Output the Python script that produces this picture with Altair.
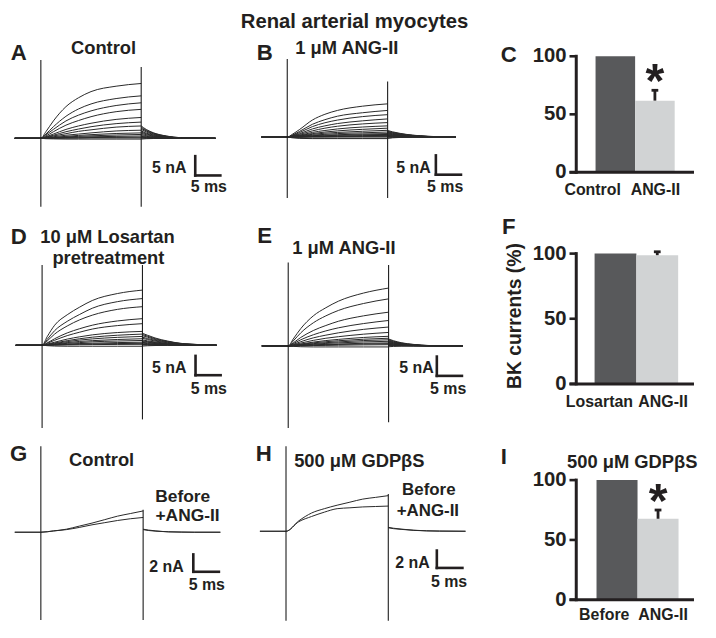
import altair as alt
import pandas as pd

# ======================= DATA =======================
TITLE = "Renal arterial myocytes"

# ---- A: control, family of outward currents (nA) vs time (ms) ----
A_T = [-5.2, 0, 1, 2.5, 5, 7.5, 10, 15, 20]
A_PULSE = [
    [0, 0, 1.7, 4.5, 8.2, 10.5, 12.1, 13.5, 14.2],
    [0, 0, 1.1, 3.0, 5.7, 7.6, 8.9, 10.3, 11.0],
    [0, 0, 0.9, 2.3, 4.5, 6.0, 7.1, 8.5, 9.2],
    [0, 0, 0.6, 1.7, 3.4, 4.6, 5.6, 6.9, 7.5],
    [0, 0, 0.4, 1.1, 2.3, 3.2, 3.9, 4.9, 5.4],
    [0, 0, 0.3, 0.8, 1.7, 2.4, 3.0, 3.8, 4.2],
    [0, 0, 0.2, 0.6, 1.2, 1.8, 2.2, 2.9, 3.2],
    [0, 0, 0.15, 0.4, 0.8, 1.1, 1.4, 1.9, 2.1],
    [0, 0, 0.1, 0.25, 0.5, 0.75, 0.95, 1.25, 1.4],
    [0, 0, 0.05, 0.15, 0.35, 0.5, 0.65, 0.85, 1.0],
    [0, 0, 0.05, 0.1, 0.2, 0.3, 0.4, 0.5, 0.6],
    [0, 0, 0, 0.05, 0.1, 0.15, 0.2, 0.25, 0.3],
    [0, 0, 0, 0, 0.05, 0.05, 0.1, 0.1, 0.1],
    [0, 0, -0.1, -0.15, -0.2, -0.2, -0.2, -0.2, -0.2],
]
A_TAIL_T = [20, 21, 22.5, 25, 28, 34.8]
A_TAIL = [
    [3.2, 2.3, 1.4, 0.6, 0.15, 0],
    [2.9, 2.1, 1.3, 0.55, 0.15, 0],
    [2.6, 1.9, 1.15, 0.5, 0.12, 0],
    [2.3, 1.65, 1.0, 0.45, 0.1, 0],
    [1.9, 1.35, 0.85, 0.35, 0.1, 0],
    [1.6, 1.15, 0.7, 0.3, 0.08, 0],
    [1.3, 0.95, 0.55, 0.25, 0.06, 0],
    [1.0, 0.7, 0.45, 0.2, 0.05, 0],
    [0.7, 0.5, 0.3, 0.13, 0.03, 0],
    [0.5, 0.35, 0.22, 0.1, 0.02, 0],
    [0.3, 0.2, 0.13, 0.06, 0.01, 0],
    [0.15, 0.1, 0.07, 0.03, 0, 0],
    [0.05, 0.03, 0.02, 0.01, 0, 0],
    [-0.2, -0.1, -0.05, 0, 0, 0],
]
A_SPIKES = [[0, 20.3, -17.75], [20, 18.5, -17.75]]

# ---- B: 1 uM ANG-II ----
B_T = [-5.1, 0, 1, 2.5, 5, 7.5, 10, 15, 20]
B_PULSE = [
    [0, 0, 0.7, 2.0, 4.4, 5.9, 6.9, 8.0, 8.6],
    [0, 0, 0.5, 1.5, 3.3, 4.5, 5.4, 6.3, 6.9],
    [0, 0, 0.4, 1.2, 2.7, 3.7, 4.4, 5.3, 5.8],
    [0, 0, 0.3, 0.9, 2.1, 2.9, 3.5, 4.2, 4.7],
    [0, 0, 0.25, 0.7, 1.6, 2.3, 2.8, 3.4, 3.75],
    [0, 0, 0.2, 0.5, 1.2, 1.7, 2.1, 2.6, 2.9],
    [0, 0, 0.15, 0.4, 0.9, 1.3, 1.6, 2.0, 2.3],
    [0, 0, 0.1, 0.3, 0.7, 1.0, 1.2, 1.5, 1.75],
    [0, 0, 0.1, 0.2, 0.5, 0.7, 0.9, 1.1, 1.3],
    [0, 0, 0.05, 0.15, 0.35, 0.5, 0.6, 0.8, 0.9],
    [0, 0, 0.05, 0.1, 0.25, 0.35, 0.45, 0.6, 0.67],
    [0, 0, 0, 0.05, 0.15, 0.2, 0.3, 0.38, 0.42],
    [0, 0, 0, 0.05, 0.1, 0.12, 0.15, 0.2, 0.25],
    [0, 0, 0, 0, 0.05, 0.05, 0.08, 0.1, 0.1],
    [0, 0, -0.1, -0.2, -0.25, -0.25, -0.25, -0.25, -0.25],
    [0, 0, -0.2, -0.35, -0.4, -0.4, -0.4, -0.4, -0.4],
]
B_TAIL_T = [20, 21, 22.5, 25, 28, 33.6]
B_TAIL = [
    [1.7, 1.35, 0.95, 0.5, 0.2, 0],
    [1.5, 1.2, 0.85, 0.45, 0.18, 0],
    [1.35, 1.1, 0.75, 0.4, 0.16, 0],
    [1.2, 0.95, 0.65, 0.35, 0.14, 0],
    [1.05, 0.85, 0.6, 0.3, 0.12, 0],
    [0.9, 0.7, 0.5, 0.26, 0.1, 0],
    [0.8, 0.62, 0.44, 0.22, 0.09, 0],
    [0.65, 0.5, 0.36, 0.18, 0.07, 0],
    [0.5, 0.4, 0.28, 0.14, 0.05, 0],
    [0.4, 0.32, 0.22, 0.11, 0.04, 0],
    [0.3, 0.24, 0.17, 0.08, 0.03, 0],
    [0.2, 0.16, 0.11, 0.05, 0.02, 0],
    [0.1, 0.08, 0.05, 0.03, 0.01, 0],
    [0.05, 0.04, 0.03, 0.01, 0, 0],
    [-0.2, -0.12, -0.06, -0.02, 0, 0],
    [-0.35, -0.2, -0.1, -0.03, 0, 0],
]
B_SPIKES = [[0, 20.2, -15.8], [20, 14.4, -15.8]]

# ---- D: 10 uM losartan pretreatment ----
D_T = [-5.25, 0, 1, 2.5, 5, 7.5, 10, 15, 20]
D_PULSE = [
    [0, 0, 2.2, 5.2, 7.9, 9.9, 11.6, 13.4, 14.3],
    [0, 0, 1.5, 3.8, 6.2, 8.0, 9.6, 11.3, 12.1],
    [0, 0, 1.1, 2.9, 5.0, 6.6, 7.8, 9.3, 10.0],
    [0, 0, 0.6, 1.7, 3.2, 4.3, 5.2, 6.3, 6.9],
    [0, 0, 0.5, 1.3, 2.5, 3.4, 4.2, 5.1, 5.6],
    [0, 0, 0.3, 0.8, 1.6, 2.2, 2.7, 3.3, 3.6],
    [0, 0, 0.2, 0.6, 1.2, 1.7, 2.1, 2.6, 2.9],
    [0, 0, 0.15, 0.45, 0.95, 1.35, 1.65, 2.05, 2.3],
    [0, 0, 0.1, 0.3, 0.7, 1.0, 1.2, 1.5, 1.7],
    [0, 0, 0.1, 0.25, 0.5, 0.7, 0.9, 1.1, 1.25],
    [0, 0, 0.05, 0.15, 0.3, 0.45, 0.55, 0.7, 0.8],
    [0, 0, 0, 0.1, 0.2, 0.3, 0.35, 0.45, 0.5],
    [0, 0, 0, 0.05, 0.1, 0.15, 0.18, 0.22, 0.25],
    [0, 0, -0.1, -0.2, -0.25, -0.25, -0.25, -0.25, -0.25],
]
D_TAIL_T = [20, 21, 22.5, 25, 28, 34.75]
D_TAIL = [
    [3.1, 2.6, 1.9, 1.1, 0.45, 0.05],
    [2.8, 2.35, 1.7, 1.0, 0.4, 0.05],
    [2.5, 2.1, 1.5, 0.9, 0.36, 0.04],
    [2.1, 1.75, 1.3, 0.75, 0.3, 0.03],
    [1.8, 1.5, 1.1, 0.65, 0.26, 0.03],
    [1.4, 1.15, 0.85, 0.5, 0.2, 0.02],
    [1.15, 0.95, 0.7, 0.4, 0.16, 0.02],
    [0.95, 0.8, 0.57, 0.33, 0.13, 0.01],
    [0.75, 0.62, 0.45, 0.26, 0.1, 0.01],
    [0.55, 0.45, 0.33, 0.19, 0.08, 0],
    [0.35, 0.29, 0.21, 0.12, 0.05, 0],
    [0.2, 0.16, 0.12, 0.07, 0.03, 0],
    [0.1, 0.08, 0.06, 0.03, 0.01, 0],
    [-0.2, -0.12, -0.06, -0.02, 0, 0],
]
D_SPIKES = [[0, 20.8, -21.4], [20, 20.8, -19.2]]

# ---- E: losartan + 1 uM ANG-II ----
E_T = [-5.25, 0, 1, 2.5, 5, 7.5, 10, 15, 20]
E_PULSE = [
    [0, 0, 1.8, 4.5, 7.8, 9.9, 11.6, 13.7, 15.0],
    [0, 0, 1.3, 3.4, 6.0, 7.8, 9.2, 11.0, 12.2],
    [0, 0, 0.8, 2.2, 4.0, 5.3, 6.4, 7.8, 8.75],
    [0, 0, 0.6, 1.6, 2.9, 3.9, 4.7, 5.8, 6.6],
    [0, 0, 0.4, 1.1, 2.1, 2.8, 3.4, 4.3, 4.9],
    [0, 0, 0.3, 0.75, 1.45, 2.0, 2.4, 3.05, 3.5],
    [0, 0, 0.2, 0.5, 1.0, 1.4, 1.7, 2.2, 2.5],
    [0, 0, 0.15, 0.4, 0.8, 1.1, 1.35, 1.75, 2.0],
    [0, 0, 0.1, 0.3, 0.6, 0.85, 1.05, 1.4, 1.6],
    [0, 0, 0.1, 0.2, 0.45, 0.65, 0.8, 1.05, 1.2],
    [0, 0, 0.05, 0.15, 0.3, 0.4, 0.5, 0.7, 0.8],
    [0, 0, 0.05, 0.1, 0.2, 0.3, 0.4, 0.5, 0.6],
    [0, 0, 0, 0.05, 0.1, 0.15, 0.2, 0.28, 0.33],
    [0, 0, -0.1, -0.2, -0.25, -0.25, -0.25, -0.25, -0.25],
]
E_TAIL_T = [20, 21, 22.5, 25, 28, 34.75]
E_TAIL = [
    [1.8, 1.35, 0.85, 0.4, 0.12, 0],
    [1.6, 1.2, 0.75, 0.35, 0.1, 0],
    [1.4, 1.05, 0.66, 0.3, 0.09, 0],
    [1.25, 0.94, 0.59, 0.27, 0.08, 0],
    [1.1, 0.82, 0.52, 0.24, 0.07, 0],
    [0.95, 0.71, 0.45, 0.21, 0.06, 0],
    [0.8, 0.6, 0.38, 0.17, 0.05, 0],
    [0.7, 0.52, 0.33, 0.15, 0.04, 0],
    [0.55, 0.41, 0.26, 0.12, 0.03, 0],
    [0.4, 0.3, 0.19, 0.09, 0.02, 0],
    [0.3, 0.22, 0.14, 0.06, 0.02, 0],
    [0.2, 0.15, 0.09, 0.04, 0.01, 0],
    [0.1, 0.07, 0.05, 0.02, 0, 0],
    [-0.2, -0.12, -0.06, -0.02, 0, 0],
]
E_SPIKES = [[0, 21.6, -21.25], [20, 21.0, -19.75]]

# ---- G: control, before / +ANG-II ----
G_T = [-5.1, 0, 2.5, 5, 7.5, 10, 12.5, 15, 17.5, 20]
G_PULSE = [
    [0, 0, 0.15, 0.35, 0.7, 1.05, 1.45, 1.85, 2.15, 2.45],   # Before
    [0, 0, 0.15, 0.3, 0.55, 0.85, 1.1, 1.35, 1.55, 1.7],     # +ANG-II
]
G_TAIL_T = [20, 21, 22.5, 25, 30, 35.1]
G_TAIL = [
    [0.35, 0.25, 0.15, 0.05, 0, 0],
    [0.3, 0.2, 0.12, 0.04, 0, 0],
]
G_SPIKES = [[0, 9.9, -10.1], [20, 2.6, -10.1]]

# ---- H: 500 uM GDPbetaS, before / +ANG-II ----
H_T = [-5.1, 0, 2.5, 5, 7.5, 10, 12.5, 15, 17.5, 20]
H_PULSE = [
    [0, 0, 1.2, 2.1, 2.6, 3.0, 3.35, 3.7, 3.9, 4.1],   # Before
    [0, 0, 1.1, 1.7, 2.2, 2.6, 2.7, 2.8, 2.85, 2.9],   # +ANG-II
]
H_TAIL_T = [20, 21, 22.5, 25, 30, 35.1]
H_TAIL = [
    [0.45, 0.35, 0.25, 0.12, 0.02, 0],
    [0.4, 0.3, 0.22, 0.1, 0.02, 0],
]
H_SPIKES = [[0, 9.8, -10.3], [20, 4.3, -10.3]]

# ---- bar graphs: BK currents (%) ----
BAR_TICKS = [0, 50, 100]
C_CATS = ["Control", "ANG-II"]
C_VALS = [100, 61.8]
C_ERR = [0, 8.9]
C_SIG = [False, True]
F_CATS = ["Losartan", "ANG-II"]
F_VALS = [100, 98.8]
F_ERR = [0, 2.6]
F_SIG = [False, False]
I_CATS = ["Before", "ANG-II"]
I_VALS = [100, 67.7]
I_ERR = [0, 7.3]
I_SIG = [False, True]

# ======================= LAYOUT / STYLE =======================
S = 0.965                       # reference px -> page px
FONT = "Liberation Sans"
INK = "#231f20"
TRACE = "#2a2a2a"
BAR_FILLS = ["#58595b", "#d1d3d4"]

COLS = [(0, 230), (230, 480), (480, 716)]
ROWS = [(0, 205), (205, 433), (433, 638)]

TRACE_GEO = {
    "A": dict(col=0, row=0, xz=33.0, pxms=5.2, base=134.0, pxna=4.0),
    "B": dict(col=1, row=0, xz=288.3, pxms=5.2, base=132.7, pxna=4.0),
    "D": dict(col=0, row=1, xz=34.3, pxms=5.2, base=348.3, pxna=4.0),
    "E": dict(col=1, row=1, xz=289.3, pxms=5.2, base=349.0, pxna=4.0),
    "G": dict(col=0, row=2, xz=33.0, pxms=5.3, base=541.0, pxna=9.0),
    "H": dict(col=1, row=2, xz=287.0, pxms=5.3, base=540.0, pxna=9.0),
}
SCALEBARS = {
    "A": dict(corner=(193.0, 172.5), na=5, ms=5, na_at=(184, 165), ms_at=(207, 184)),
    "B": dict(corner=(442.3, 171.7), na=5, ms=5, na_at=(437, 165), ms_at=(452, 184)),
    "D": dict(corner=(193.3, 379.3), na=5, ms=5, na_at=(184, 372), ms_at=(207, 394)),
    "E": dict(corner=(443.3, 380.0), na=5, ms=5, na_at=(440, 372), ms_at=(455, 394)),
    "G": dict(corner=(191.0, 582.0), na=2, ms=5, na_at=(181, 577), ms_at=(205, 596)),
    "H": dict(corner=(443.3, 578.0), na=2, ms=5, na_at=(436, 573), ms_at=(456, 593)),
}
LETTER = 23
HEAD = 19
SMALL = 16.5
TRACE_LABELS = {
    "A": [("A", 10, 46, LETTER), ("Control", 98, 40, HEAD)],
    "B": [(TITLE, 358, 13, 21), ("B", 265, 46, LETTER), ("1 μM ANG-II", 350, 40, HEAD)],
    "D": [("D", 10, 236, LETTER), ("10 μM Losartan", 102, 236, HEAD), ("pretreatment", 103, 258, HEAD)],
    "E": [("E", 265, 235, LETTER), ("1 μM ANG-II", 347, 248, HEAD)],
    "G": [("G", 10, 460, LETTER), ("Control", 96, 466, HEAD),
          ("Before", 180, 505, 18), ("+ANG-II", 185, 524, 18)],
    "H": [("H", 264, 460, LETTER), ("500 μM GDPβS", 363, 467, HEAD),
          ("Before", 435, 497, 17.5), ("+ANG-II", 434, 519, 17.5)],
}

BAR_GEO = {
    "C": dict(col=2, row=0, xb=607.0, unit=41.0, y0=169.3, pxv=1.203),
    "F": dict(col=2, row=1, xb=606.0, unit=43.3, y0=388.3, pxv=1.35),
    "I": dict(col=2, row=2, xb=608.0, unit=42.5, y0=611.0, pxv=1.24),
}
AXIS_X, TICK_X, LABEL_X, BASE_END = 587, 580, 577, 709
BAR_LABELS = {
    "C": dict(x=[604, 669], y=188, extra=[("C", 517, 48, LETTER)]),
    "F": dict(x=[611, 677], y=407, extra=[("F", 517, 226, LETTER)]),
    "I": dict(x=[616, 677], y=627, extra=[("I", 512, 463, LETTER), ("500 μM GDPβS", 645, 468, HEAD)]),
}
YTITLE = ("BK currents (%)", 524, 318, 20)
TICKFONT = 21
AST = 50
AST_GAP = 22   # ref px from error-bar top to asterisk centre


def text_layer(df, xs, ys, align="center", baseline="middle", angle=None):
    kw = dict(font=FONT, fontWeight="bold", color=INK, align=align, baseline=baseline)
    if angle is not None:
        kw["angle"] = angle
    return alt.Chart(df).mark_text(**kw).encode(
        x=alt.X("x:Q", scale=xs, axis=None),
        y=alt.Y("y:Q", scale=ys, axis=None),
        text="text:N",
        size=alt.Size("size:Q", scale=None, legend=None),
    )


def trace_panel(key, t_pulse, pulse, t_tail, tail, spikes):
    g = TRACE_GEO[key]
    fx = lambda px: (px - g["xz"]) / g["pxms"]
    fy = lambda py: (g["base"] - py) / g["pxna"]
    (x0, x1), (y0, y1) = COLS[g["col"]], ROWS[g["row"]]
    xs = alt.Scale(domain=[fx(x0), fx(x1)], nice=False, zero=False)
    ys = alt.Scale(domain=[fy(y1), fy(y0)], nice=False, zero=False)

    rows = []
    for i, seq in enumerate(pulse):
        for k, (t, v) in enumerate(zip(t_pulse, seq)):
            rows.append({"seg": f"p{i}", "k": k, "x": t, "y": v})
    for i, seq in enumerate(tail):
        for k, (t, v) in enumerate(zip(t_tail, seq)):
            rows.append({"seg": f"t{i}", "k": k, "x": t, "y": v})
    lines = alt.Chart(pd.DataFrame(rows)).mark_line(
        color=TRACE, strokeWidth=1.0, interpolate="monotone"
    ).encode(
        x=alt.X("x:Q", scale=xs, axis=None),
        y=alt.Y("y:Q", scale=ys, axis=None),
        detail="seg:N",
        order="k:Q",
    )

    sp = pd.DataFrame(spikes, columns=["x", "y", "y2"])
    spk = alt.Chart(sp).mark_rule(color="#1e1e1e", strokeWidth=1.1).encode(
        x=alt.X("x:Q", scale=xs, axis=None),
        y=alt.Y("y:Q", scale=ys, axis=None),
        y2="y2:Q",
    )

    sb = SCALEBARS[key]
    ct, cv = fx(sb["corner"][0]), fy(sb["corner"][1])
    sbdf = pd.DataFrame([
        {"x": ct, "x2": ct, "y": cv, "y2": cv + sb["na"]},
        {"x": ct, "x2": ct + sb["ms"], "y": cv, "y2": cv},
    ])
    sbar = alt.Chart(sbdf).mark_rule(color=INK, strokeWidth=2.6, strokeCap="square").encode(
        x=alt.X("x:Q", scale=xs, axis=None), x2="x2:Q",
        y=alt.Y("y:Q", scale=ys, axis=None), y2="y2:Q",
    )

    right = pd.DataFrame([{"text": f"{sb['na']} nA", "x": fx(sb["na_at"][0]),
                           "y": fy(sb["na_at"][1]), "size": SMALL * S}])
    centre_rows = [{"text": f"{sb['ms']} ms", "x": fx(sb["ms_at"][0]),
                    "y": fy(sb["ms_at"][1]), "size": SMALL * S}]
    for txt, rx, ry, sz in TRACE_LABELS[key]:
        centre_rows.append({"text": txt, "x": fx(rx), "y": fy(ry), "size": sz * S})
    centre = pd.DataFrame(centre_rows)

    return alt.layer(
        lines, spk, sbar,
        text_layer(right, xs, ys, align="right"),
        text_layer(centre, xs, ys),
    ).properties(width=(x1 - x0) * S, height=(y1 - y0) * S)


def bar_panel(key, cats, vals, errs, sig, ytitle=None):
    g = BAR_GEO[key]
    fx = lambda px: (px - g["xb"]) / g["unit"]
    fy = lambda py: (g["y0"] - py) / g["pxv"]
    (x0, x1), (y0, y1) = COLS[g["col"]], ROWS[g["row"]]
    xs = alt.Scale(domain=[fx(x0), fx(x1)], nice=False, zero=False)
    ys = alt.Scale(domain=[fy(y1), fy(y0)], nice=False, zero=False)
    X = lambda f: alt.X(f"{f}:Q", scale=xs, axis=None)
    Y = lambda f: alt.Y(f"{f}:Q", scale=ys, axis=None)

    cap = 3.5 / g["unit"]
    bdf = pd.DataFrame({"cat": cats, "val": vals, "err": errs, "sig": sig})
    bdf["lo"] = list(range(len(cats)))
    bdf["hi"] = bdf["lo"] + 1
    bdf["mid"] = bdf["lo"] + 0.5
    bdf["cl"] = bdf["mid"] - cap
    bdf["cr"] = bdf["mid"] + cap
    bdf["top"] = bdf["val"] + bdf["err"]
    bdf["zero"] = 0.0
    bdf["star"] = "*"
    bdf["fill"] = BAR_FILLS[: len(cats)]

    bars = alt.Chart(bdf).mark_bar().encode(
        x=X("lo"), x2="hi:Q", y=Y("val"), y2="zero:Q",
        color=alt.Color("fill:N", scale=None, legend=None),
    )
    ebase = alt.Chart(bdf).transform_filter("datum.err > 0")
    err = ebase.mark_rule(color=INK, strokeWidth=2.8).encode(x=X("mid"), y=Y("val"), y2="top:Q")
    errcap = ebase.mark_rule(color=INK, strokeWidth=2.8).encode(x=X("cl"), x2="cr:Q", y=Y("top"))
    star = alt.Chart(bdf).transform_filter("datum.sig").mark_text(
        font=FONT, fontWeight="bold", color=INK, fontSize=AST * S, align="center",
        baseline="alphabetic", dy=(-AST_GAP + 0.585 * AST) * S,
    ).encode(x=X("mid"), y=Y("top"), text="star:N")

    ax, tx, be = fx(AXIS_X), fx(TICK_X), fx(BASE_END)
    tdf = pd.DataFrame({"v": BAR_TICKS})
    tdf["x"] = tx
    tdf["x2"] = ax
    tdf["lx"] = fx(LABEL_X)
    tdf["text"] = [str(t) for t in BAR_TICKS]
    tdf["size"] = TICKFONT * S
    ticks = alt.Chart(tdf).mark_rule(color=INK, strokeWidth=2.6).encode(x=X("x"), x2="x2:Q", y=Y("v"))
    adf = pd.DataFrame([{"x": ax, "y": min(BAR_TICKS), "y2": max(BAR_TICKS)}])
    axis = alt.Chart(adf).mark_rule(color=INK, strokeWidth=3, strokeCap="square").encode(
        x=X("x"), y=Y("y"), y2="y2:Q")
    bldf = pd.DataFrame([{"x": tx, "x2": be, "y": 0.0}])
    baseline = alt.Chart(bldf).mark_rule(color=INK, strokeWidth=3).encode(x=X("x"), x2="x2:Q", y=Y("y"))
    tlab = alt.Chart(tdf).mark_text(font=FONT, fontWeight="bold", color=INK, align="right",
                                    baseline="middle").encode(
        x=X("lx"), y=Y("v"), text="text:N", size=alt.Size("size:Q", scale=None, legend=None))

    bl = BAR_LABELS[key]
    rows = [{"text": c, "x": fx(px), "y": fy(bl["y"]), "size": SMALL * S} for c, px in zip(cats, bl["x"])]
    for txt, rx, ry, sz in bl["extra"]:
        rows.append({"text": txt, "x": fx(rx), "y": fy(ry), "size": sz * S})
    layers = [bars, err, errcap, ticks, axis, baseline, tlab, star,
              text_layer(pd.DataFrame(rows), xs, ys)]
    if ytitle is not None:
        txt, rx, ry, sz = ytitle
        ydf = pd.DataFrame([{"text": txt, "x": fx(rx), "y": fy(ry), "size": sz * S}])
        layers.append(text_layer(ydf, xs, ys, angle=270))
    return alt.layer(*layers).properties(width=(x1 - x0) * S, height=(y1 - y0) * S)


panels = [
    trace_panel("A", A_T, A_PULSE, A_TAIL_T, A_TAIL, A_SPIKES),
    trace_panel("B", B_T, B_PULSE, B_TAIL_T, B_TAIL, B_SPIKES),
    bar_panel("C", C_CATS, C_VALS, C_ERR, C_SIG),
    trace_panel("D", D_T, D_PULSE, D_TAIL_T, D_TAIL, D_SPIKES),
    trace_panel("E", E_T, E_PULSE, E_TAIL_T, E_TAIL, E_SPIKES),
    bar_panel("F", F_CATS, F_VALS, F_ERR, F_SIG, ytitle=YTITLE),
    trace_panel("G", G_T, G_PULSE, G_TAIL_T, G_TAIL, G_SPIKES),
    trace_panel("H", H_T, H_PULSE, H_TAIL_T, H_TAIL, H_SPIKES),
    bar_panel("I", I_CATS, I_VALS, I_ERR, I_SIG),
]

chart = alt.concat(
    *panels, columns=3, spacing=0, bounds="flush", align="each"
).properties(padding=0, background="white").configure_view(stroke="transparent")

chart.save("out.html", embed_options={"renderer": "svg", "actions": False})
